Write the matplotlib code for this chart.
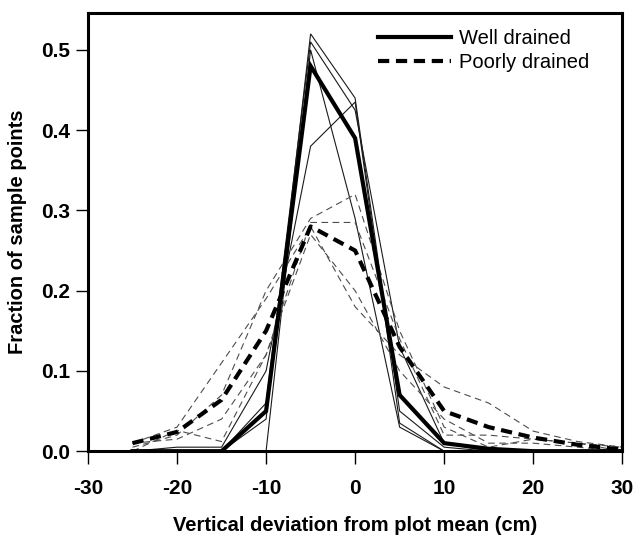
import numpy as np
import matplotlib.pyplot as plt
from matplotlib.lines import Line2D

"""
Distribution of vertical deviation from plot mean, well vs poorly drained plots
"""

deviation = [-25, -20, -15, -10, -5, 0, 5, 10, 15, 20, 25, 30]

# individual well drained plots (thin solid)
well_plots = [
    [0.0, 0.0, 0.0, 0.04, 0.52, 0.44, 0.05, 0.005, 0.0, 0.0, 0.0, 0.0],
    [0.0, 0.0, 0.0, 0.06, 0.51, 0.425, 0.13, 0.01, 0.0, 0.0, 0.0, 0.0],
    [0.0, 0.005, 0.005, 0.1, 0.38, 0.435, 0.035, 0.0, 0.0, 0.0, 0.0, 0.0],
    [0.0, 0.0, 0.0, 0.0, 0.5, 0.29, 0.03, 0.0, 0.0, 0.0, 0.0, 0.0],
]
well_mean = [0.0, 0.0, 0.0, 0.05, 0.48, 0.39, 0.07, 0.01, 0.003, 0.0, 0.0, 0.0]

# individual poorly drained plots (thin dashed)
poor_plots = [
    [0.005, 0.02, 0.07, 0.2, 0.29, 0.32, 0.15, 0.03, 0.005, 0.015, 0.01, 0.0],
    [0.01, 0.015, 0.04, 0.12, 0.285, 0.285, 0.14, 0.02, 0.02, 0.015, 0.01, 0.005],
    [0.01, 0.03, 0.11, 0.19, 0.28, 0.18, 0.12, 0.08, 0.06, 0.025, 0.012, 0.005],
    [0.0, 0.026, 0.012, 0.12, 0.27, 0.2, 0.1, 0.04, 0.01, 0.01, 0.005, 0.0],
]
poor_mean = [0.01, 0.024, 0.064, 0.15, 0.28, 0.25, 0.13, 0.05, 0.03, 0.017, 0.008, 0.002]

plt.rcParams["font.family"] = ["Liberation Sans", "DejaVu Sans"]
plt.rcParams["axes.unicode_minus"] = False

fig = plt.figure(figsize=(6.33, 5.41), dpi=100)
ax = fig.add_axes([0.139, 0.166, 0.844, 0.810])

for vals in well_plots:
    ax.plot(deviation, vals, color="0.1", lw=0.8, solid_joinstyle="miter")
for vals in poor_plots:
    ax.plot(deviation, vals, color="0.3", lw=0.8, dashes=(6, 4))

ax.plot(deviation, well_mean, color="black", lw=3.0, solid_joinstyle="miter")
ax.plot(deviation, poor_mean, color="black", lw=3.0, dashes=(2.7, 1.6))

ax.set_xlim(-30, 30)
ax.set_ylim(0, 0.546)
ax.set_xticks([-30, -20, -10, 0, 10, 20, 30])
ax.set_yticks([0.0, 0.1, 0.2, 0.3, 0.4, 0.5])
ax.set_yticklabels(["0.0", "0.1", "0.2", "0.3", "0.4", "0.5"])

for sp in ax.spines.values():
    sp.set_linewidth(2.2)
ax.tick_params(axis="both", direction="out", length=9, width=1.0,
               labelsize=15)
ax.tick_params(axis="x", pad=11)
ax.tick_params(axis="y", pad=4)
for lab in ax.get_xticklabels() + ax.get_yticklabels():
    lab.set_fontweight("bold")

ax.set_xlabel("Vertical deviation from plot mean (cm)", fontsize=14.5,
              fontweight="bold", labelpad=13)
ax.set_ylabel("Fraction of sample points", fontsize=14.5,
              fontweight="bold", labelpad=10)

handles = [
    Line2D([], [], color="black", lw=3.0),
    Line2D([], [], color="black", lw=3.0, dashes=(2.7, 1.6)),
]
ax.legend(handles, ["Well drained", "Poorly drained"], loc="upper left",
          frameon=False, fontsize=14.5, handlelength=3.6, handletextpad=0.4,
          labelspacing=0.22, borderaxespad=0, borderpad=0,
          bbox_to_anchor=(0.543, 0.963))

fig.savefig("out.png", dpi=100)
